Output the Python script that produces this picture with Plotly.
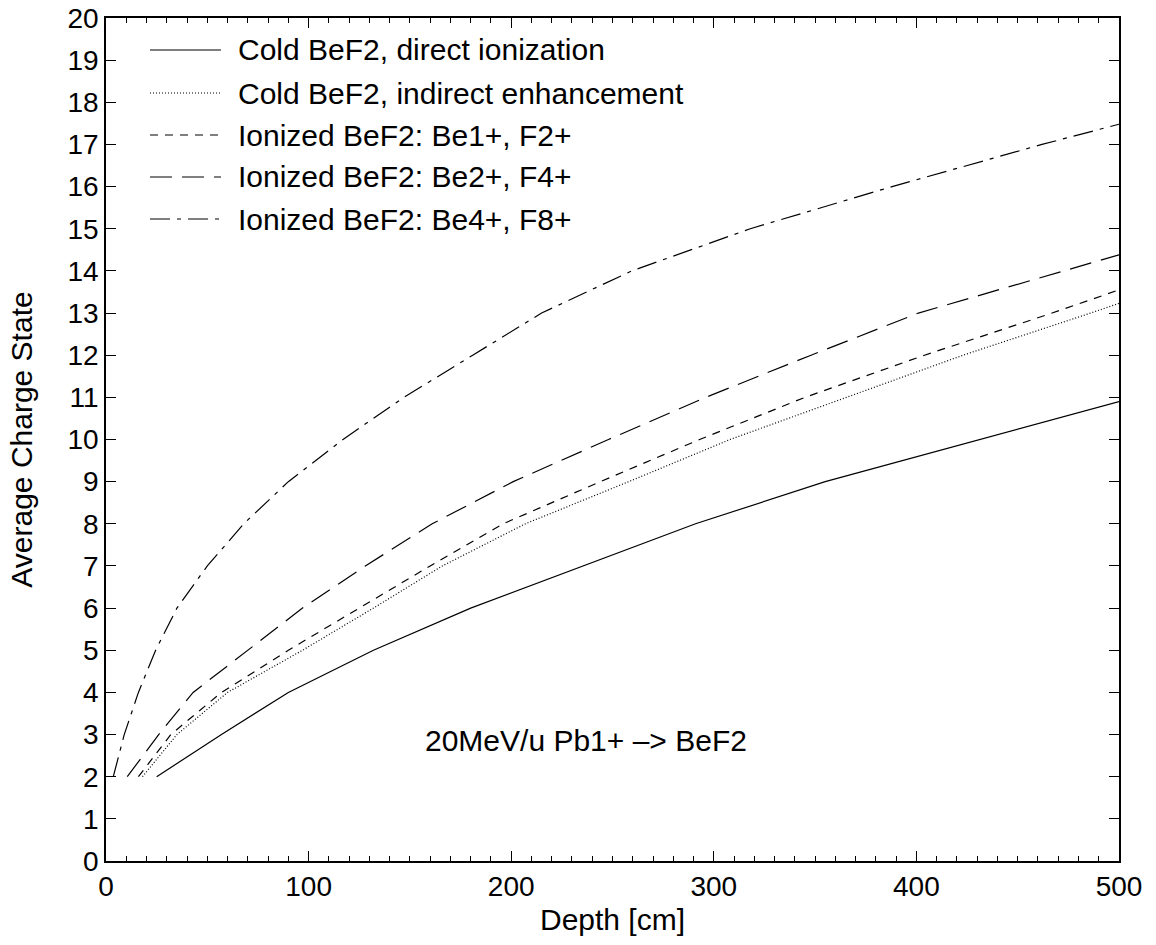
import plotly.graph_objects as go

# ---- data (depth [cm] at which each average charge state is reached) ----
cold_direct_x = [25, 57, 90, 132, 180, 235, 291, 355, 431, 500]
cold_direct_y = [2, 3, 4, 5, 6, 7, 8, 9, 10, 10.9]

cold_indirect_x = [18, 35, 60, 97, 132, 166, 207, 258, 308, 365, 423, 486, 500]
cold_indirect_y = [2, 3, 4, 5, 6, 7, 8, 9, 10, 11, 12, 13, 13.23]

ion1_x = [16, 32, 57, 90, 125, 160, 196, 244, 293, 345, 404, 467, 500]
ion1_y = [2, 3, 4, 5, 6, 7, 8, 9, 10, 11, 12, 13, 13.55]

ion2_x = [10.5, 26, 43, 70, 97, 128, 161, 201, 248, 296, 348, 401, 473, 500]
ion2_y = [2, 3, 4, 5, 6, 7, 8, 9, 10, 11, 12, 13, 14, 14.38]

ion4_x = [3.6, 9, 16, 24.5, 35, 50, 68, 90, 117, 147, 181, 215, 259.5, 318, 388, 462, 500]
ion4_y = [2, 3, 4, 5, 6, 7, 8, 9, 10, 11, 12, 13, 14, 15, 16, 17, 17.48]

names = [
    "Cold BeF2, direct ionization",
    "Cold BeF2, indirect enhancement",
    "Ionized BeF2: Be1+, F2+",
    "Ionized BeF2: Be2+, F4+",
    "Ionized BeF2: Be4+, F8+",
]
x_ticks = [0, 100, 200, 300, 400, 500]
y_ticks = list(range(0, 21))
annotation_text = "20MeV/u Pb1+ –> BeF2"
annotation_pos = (237, 2.85)

# ---- styles ----
dashes = ["solid", "1px,2px", "8px,7px", "22px,10px", "20px,7px,4px,7px"]
FONT = "Liberation Sans, Arial, Helvetica, sans-serif"
FS = 30
FS_TICK = 28

series = [
    (cold_direct_x, cold_direct_y),
    (cold_indirect_x, cold_indirect_y),
    (ion1_x, ion1_y),
    (ion2_x, ion2_y),
    (ion4_x, ion4_y),
]

fig = go.Figure()
for (xs, ys), name, d in zip(series, names, dashes):
    fig.add_trace(go.Scatter(x=xs, y=ys, mode="lines", name=name,
                             line=dict(color="black", width=1.2, dash=d),
                             showlegend=False))

# plot area in page pixels (page body margin removed below)
L, R, T, B = 106, 1119, 18, 861
W, H = 1156, 945

def px2paper(px, py):
    return (px - L) / (R - L), (B - py) / (B - T)

# custom legend (long line samples like the original)
row_y = [50, 93, 135, 177, 219]
for name, d, ry in zip(names, dashes, row_y):
    x0, y0 = px2paper(150, ry)
    x1, _ = px2paper(221, ry)
    fig.add_shape(type="line", xref="paper", yref="paper", x0=x0, x1=x1, y0=y0, y1=y0,
                  line=dict(color="black", width=1.2, dash=d))
    tx, _ = px2paper(236, ry)
    fig.add_annotation(xref="paper", yref="paper", x=tx, y=y0, text=name, showarrow=False,
                       xanchor="left", yanchor="middle", font=dict(family=FONT, size=FS, color="black"))

fig.add_annotation(x=annotation_pos[0], y=annotation_pos[1], text=annotation_text, showarrow=False,
                   xanchor="center", yanchor="middle", font=dict(family=FONT, size=FS, color="black"))

axis_common = dict(showgrid=False, zeroline=False, showline=True, linecolor="black", linewidth=1.5,
                   mirror="ticks", ticks="inside", ticklen=10, tickwidth=1.2, tickcolor="black",
                   ticklabeloverflow="allow",
                   tickfont=dict(family=FONT, size=FS_TICK, color="black"))

fig.update_xaxes(range=[0, 500], tickvals=x_ticks, ticktext=[str(v) for v in x_ticks],
                 minor=dict(dtick=10, ticks="inside", ticklen=5, tickwidth=1, tickcolor="black", showgrid=False),
                 title=dict(text="Depth [cm]", font=dict(family=FONT, size=FS, color="black"), standoff=8),
                 **axis_common)
fig.update_yaxes(range=[0, 20], tickvals=y_ticks, ticktext=[str(v) for v in y_ticks],
                 title=dict(text="Average Charge State", font=dict(family=FONT, size=FS, color="black"), standoff=26),
                 **axis_common)

fig.update_layout(width=W, height=H, margin=dict(l=L, r=W - R, t=T, b=H - B, autoexpand=False),
                  paper_bgcolor="white", plot_bgcolor="white", showlegend=False,
                  font=dict(family=FONT, size=FS, color="black"))

fig.write_html("out.html", config={"displayModeBar": False},
               post_script="document.body.style.margin='0';document.body.style.overflow='hidden';")
